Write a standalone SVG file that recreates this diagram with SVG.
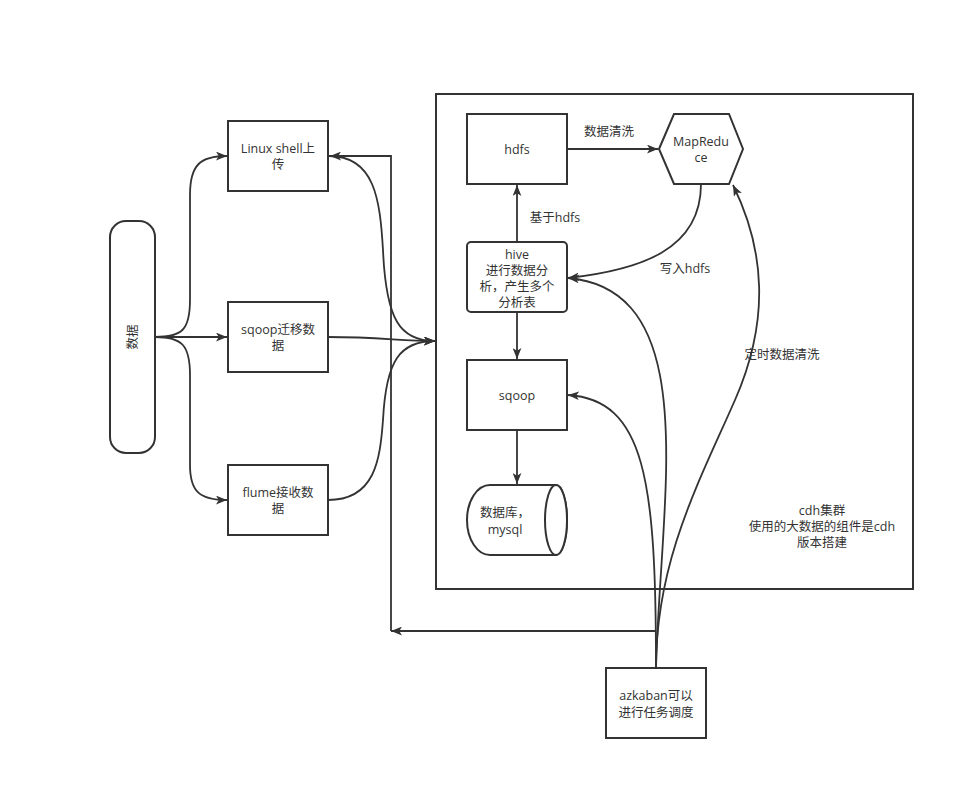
<svg xmlns="http://www.w3.org/2000/svg" width="976" height="799" viewBox="0 0 976 799">
<style>
.n{fill:#fff;stroke:#333;stroke-width:2}
.c{fill:none;stroke:#333;stroke-width:1.8}
text{font-family:"Open Sans","Noto Sans CJK SC",sans-serif;font-size:12.5px;fill:#333;text-anchor:middle;dominant-baseline:central}
</style>
<defs>
<marker id="a" viewBox="0 0 10 8" refX="10" refY="4" markerWidth="11" markerHeight="9" markerUnits="userSpaceOnUse" orient="auto">
<path d="M0,0 L10,4 L0,8 L2.5,4 z" fill="#333"/>
</marker>
</defs>
<rect width="976" height="799" fill="#fff"/>
<g id="cluster">
<rect class="n" x="436" y="94" width="477" height="495" fill="none"/>
<text x="822" y="510">cdh集群</text>
<text x="822" y="526">使用的大数据的组件是cdh</text>
<text x="822" y="542">版本搭建</text>
</g>
<g id="data">
<rect class="n" x="110" y="221" width="45" height="232" rx="16" ry="16"/>
<text x="132" y="337" transform="rotate(-90 132 337)">数据</text>
</g>
<g id="linux">
<rect class="n" x="228" y="121" width="100" height="70"/>
<text x="278" y="148">Linux shell上</text>
<text x="278" y="164">传</text>
</g>
<g id="sqoopmig">
<rect class="n" x="228" y="302" width="100" height="70"/>
<text x="278" y="329">sqoop迁移数</text>
<text x="278" y="345">据</text>
</g>
<g id="flume">
<rect class="n" x="228" y="465" width="100" height="70"/>
<text x="278" y="492">flume接收数</text>
<text x="278" y="508">据</text>
</g>
<g id="hdfs">
<rect class="n" x="467" y="114" width="100" height="70"/>
<text x="517" y="149">hdfs</text>
</g>
<g id="mapreduce">
<polygon class="n" points="659,149 674,114 729,114 743,149 729,184 674,184"/>
<text x="701" y="141">MapRedu</text>
<text x="701" y="157">ce</text>
</g>
<g id="hive">
<rect class="n" x="467" y="242" width="100" height="70" rx="4" ry="4"/>
<text x="517" y="254">hive</text>
<text x="517" y="270">进行数据分</text>
<text x="517" y="286">析，产生多个</text>
<text x="517" y="302">分析表</text>
</g>
<g id="sqoop">
<rect class="n" x="467" y="360" width="100" height="70"/>
<text x="517" y="395">sqoop</text>
</g>
<g id="mysql">
<path class="n" d="M490,485 L556,485 A11,35 0 0 1 556,555 L490,555 A23,35 0 0 1 490,485 z"/>
<ellipse class="n" cx="556" cy="520" rx="11" ry="35"/>
<text x="505" y="512">数据库，</text>
<text x="505" y="529">mysql</text>
</g>
<g id="azkaban">
<rect class="n" x="606" y="668" width="100" height="70"/>
<text x="656" y="695">azkaban可以</text>
<text x="656" y="712">进行任务调度</text>
</g>
<g id="connectors">
<path class="c" d="M155,337 C182,337 190,330 190,300 L190,195 C190,165 200,156 227,156" marker-end="url(#a)"/>
<path class="c" d="M155,337 L227,337" marker-end="url(#a)"/>
<path class="c" d="M155,337 C182,337 190,345 190,375 L190,465 C190,492 200,500 227,500" marker-end="url(#a)"/>
<path class="c" d="M329,156 C375,156 380,200 383,250 C386,320 400,341 435,341" marker-end="url(#a)"/>
<path class="c" d="M328,337 C380,337 400,341 435,341" marker-end="url(#a)"/>
<path class="c" d="M328,500 C375,500 380,460 383,420 C386,360 400,341 435,341" marker-end="url(#a)"/>
<path class="c" d="M656,631 L391,631" marker-end="url(#a)"/>
<path class="c" d="M391,631 L391,156 L330,156" marker-end="url(#a)"/>
<path class="c" d="M567,149 L658,149" marker-end="url(#a)"/>
<text x="609" y="131">数据清洗</text>
<path class="c" d="M517,242 L517,185" marker-end="url(#a)"/>
<text x="555" y="217">基于hdfs</text>
<path class="c" d="M701,184 C701,250 640,270 568,278" marker-end="url(#a)"/>
<text x="685" y="268">写入hdfs</text>
<path class="c" d="M517,312 L517,359" marker-end="url(#a)"/>
<path class="c" d="M517,430 L517,484" marker-end="url(#a)"/>
<path class="c" d="M656,668 C660,500 705,290 568,278" marker-end="url(#a)"/>
<path class="c" d="M656,668 C656,480 645,400 568,395" marker-end="url(#a)"/>
<path class="c" d="M656,668 C656,560 700,480 735,400 C770,320 765,250 733,185" marker-end="url(#a)"/>
<text x="782" y="354">定时数据清洗</text>
</g>
</svg>
